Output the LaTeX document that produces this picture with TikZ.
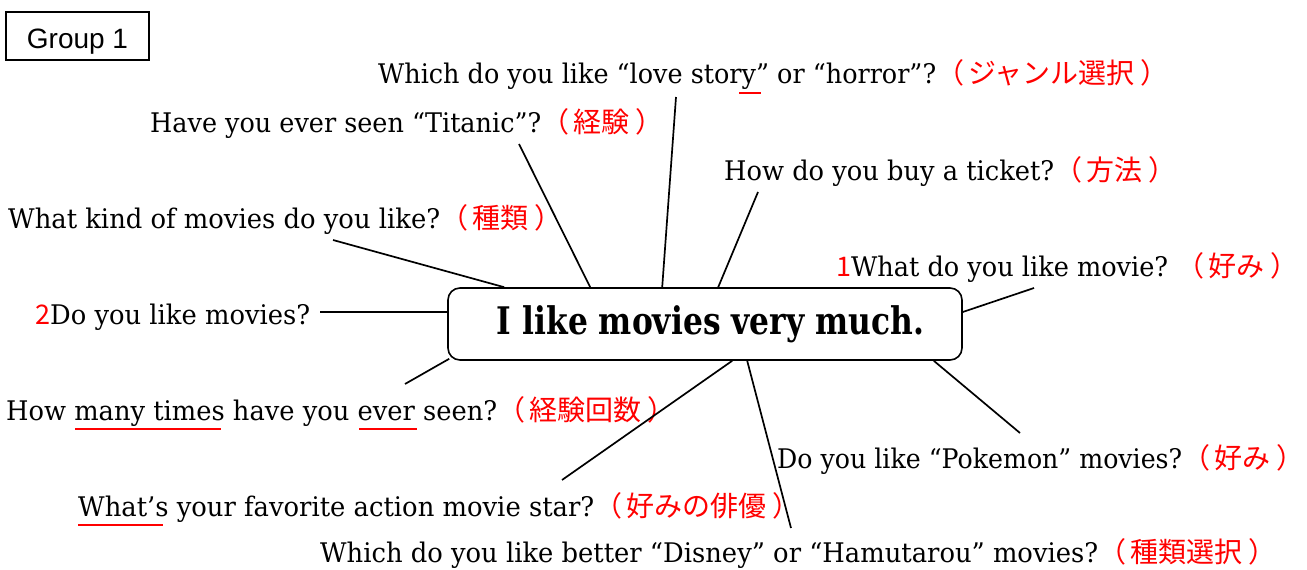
\documentclass[tikz,border=0pt]{standalone}
\usepackage{fontspec}
\usepackage{graphicx}
\setmainfont{DejaVu Serif}
\newfontfamily\jp{Noto Sans CJK JP}
\newfontfamily\gsans{Liberation Sans}
\newcommand\en[2]{\resizebox{#1pt}{\height}{#2}}
\newcommand\jr[1]{{\color{red}\jp\fontsize{28}{32}\selectfont （\kern4pt #1\kern6pt）}}
\newcommand\rd[1]{{\color{red}\jp #1}}
\begin{document}
\begin{tikzpicture}[x=1pt,y=-1pt,
  lab/.style={inner sep=0pt,anchor=base west,font=\fontsize{27}{32}\selectfont},
  conn/.style={line width=1.7pt},
  uline/.style={red,line width=1.8pt}]
\useasboundingbox (0,0) rectangle (1307,570);
% group label
\node[draw,line width=1.2pt,minimum width=143pt,minimum height=48pt,inner sep=0pt,text height=24pt,text depth=0pt,font=\gsans\fontsize{28}{32}\selectfont] (g) at (77.5,36) {Group 1};
% centre box
\node[draw,line width=1.6pt,rounded corners=12pt,minimum width=514pt,minimum height=72pt,inner sep=0pt,font=\bfseries\fontsize{38}{42}\selectfont] (c) at (705,324) {\hspace{11pt}\en{427}{I like movies very much.}};
% labels
\node[lab] (q1) at (378,83) {\en{558}{Which do you like “love story” or “horror”?}\jr{ジャンル選択}};
\node[lab] (q2) at (150,132) {\en{391}{Have you ever seen “Titanic”?}\jr{経験}};
\node[lab] (q3) at (724,180) {\en{330}{How do you buy a ticket?}\jr{方法}};
\node[lab] (q4) at (8,228) {\en{432}{What kind of movies do you like?}\jr{種類}};
\node[lab] (q5) at (836,276) {\rd{1}\en{317}{What do you like movie?} \jr{好み}};
\node[lab] (q6) at (35,324) {\rd{2}\en{260}{Do you like movies?}};
\node[lab] (q7) at (6,420) {\en{491}{How many times have you ever seen?}\jr{経験回数}};
\node[lab] (q8) at (777,468) {\en{405}{Do you like “Pokemon” movies?}\jr{好み}};
\node[lab] (q9) at (78,516) {\en{516}{What’s your favorite action movie star?}\jr{好みの俳優}};
\node[lab] (q10) at (320,562) {\en{778}{Which do you like better “Disney” or “Hamutarou” movies?}\jr{種類選択}};
% free ends of connectors
\coordinate (e1) at (676,97);
\coordinate (e2) at (519,144);
\coordinate (e3) at (758,192);
\coordinate (e4) at (333,240);
\coordinate (e5) at (1034,288);
\coordinate (e6) at (320,312);
\coordinate (e7) at (405,384);
\coordinate (e8) at (1020,433);
\coordinate (e9) at (562,480);
\coordinate (e10) at (791,528);
% connectors
\draw[conn] (e1) -- ([xshift=215pt]c.north west);
\draw[conn] (e2) -- ([xshift=143pt]c.north west);
\draw[conn] (e3) -- ([xshift=271pt]c.north west);
\draw[conn] (e4) -- ([xshift=57pt]c.north west);
\draw[conn] (e5) -- ([yshift=12pt]c.east);
\draw[conn] (e6) -- ([yshift=12pt]c.west);
\draw[conn] (e7) -- ([xshift=2pt,yshift=2pt]c.south west);
\draw[conn] (e8) -- ([xshift=-29pt]c.south east);
\draw[conn] (e9) -- ([xshift=285pt]c.south west);
\draw[conn] (e10) -- ([xshift=300pt]c.south west);
% red underlines
\draw[uline] (739,93) -- (761,93);
\draw[uline] (75,429) -- (221,429);
\draw[uline] (359,429) -- (417,429);
\draw[uline] (78,525) -- (163,525);
\end{tikzpicture}
\end{document}
